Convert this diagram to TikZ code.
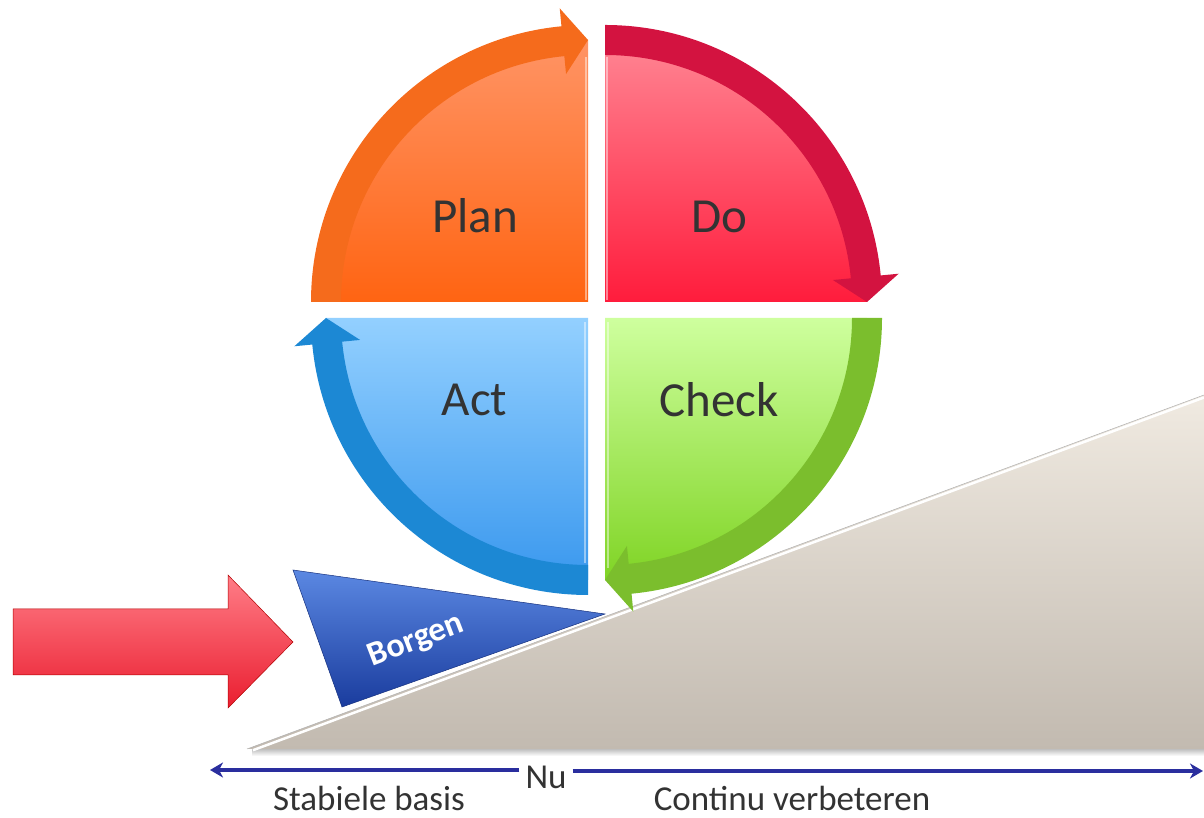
\documentclass[tikz,border=0pt]{standalone}
\usepackage{fontspec}
\setmainfont{Carlito}
\usetikzlibrary{arrows.meta,calc}
\definecolor{planT}{HTML}{FF9465}
\definecolor{planB}{HTML}{FF6412}
\definecolor{planA}{HTML}{F56B1C}
\definecolor{doT}{HTML}{FF8593}
\definecolor{doB}{HTML}{FF1C3C}
\definecolor{doA}{HTML}{D31340}
\definecolor{actT}{HTML}{93D0FF}
\definecolor{actB}{HTML}{3A98EE}
\definecolor{actA}{HTML}{1C88D4}
\definecolor{chkT}{HTML}{CEFF9E}
\definecolor{chkB}{HTML}{80D425}
\definecolor{chkA}{HTML}{7BBE2D}
\definecolor{redT}{HTML}{FF7D87}
\definecolor{redB}{HTML}{EA1E30}
\definecolor{borT}{HTML}{5B88E2}
\definecolor{borB}{HTML}{1A3C9E}
\definecolor{wedT}{HTML}{F0EAE1}
\definecolor{wedB}{HTML}{C2BAB0}
\definecolor{lineblue}{HTML}{2A2E9E}
\definecolor{txt}{HTML}{333333}
\begin{document}
\begin{tikzpicture}[x=1pt,y=1pt,
  lbl/.style={text=txt, font=\fontsize{49}{50}\selectfont, inner sep=0pt, anchor=base},
  small/.style={text=txt, font=\fontsize{35}{36}\selectfont, inner sep=0pt, anchor=base},
  borgenlbl/.style={text=white, font=\bfseries\fontsize{34}{35}\selectfont, inner sep=0pt, anchor=base, rotate=21},
  ringarrow/.style={line width=0.6pt},
  blueline/.style={draw=lineblue, line width=3.8pt, -{Stealth[length=13pt,width=15pt,inset=4pt]}},
  bevel/.style={white, opacity=0.45, line width=2pt}]
\useasboundingbox (0,0) rectangle (1204,818);

% ---------- gray wedge ----------
\coordinate (W1) at (247,69);
\coordinate (W2) at (1204,423);
\coordinate (W3) at (1204,69);
\shade[top color=black!25, bottom color=white] (252,62) rectangle (1204,69);
\shade[top color=wedT, bottom color=wedB] (W1) -- (W2) -- (W3) -- cycle;
\draw[black!30, line width=0.5pt] (W1) -- (W2);
\draw[white, line width=2.5pt] ($(W1)+(6,-1.2)$) -- ($(W2)+(0,-2.5)$);

% ---------- Plan ----------
\begin{scope}[shift={(588,516)}]
  \shade[top color=planT, bottom color=planB] (0,0) -- (180:262pt) arc[start angle=180,end angle=90,radius=262pt] -- cycle;
  \draw[bevel] (-2,2) -- (-2,245);
  \fill[planA, ringarrow] (180:277pt) arc[start angle=180,end angle=95.5,radius=277pt]
    -- (95.5:295pt) -- (90:262pt) -- (95.5:229pt) -- (95.5:247pt)
    arc[start angle=95.5,end angle=180,radius=247pt] -- cycle;
\end{scope}

% ---------- Do ----------
\begin{scope}[shift={(605,516)}]
  \shade[top color=doT, bottom color=doB] (0,0) -- (90:262pt) arc[start angle=90,end angle=0,radius=262pt] -- cycle;
  \draw[bevel] (2,2) -- (2,245);
  \fill[doA, ringarrow] (90:277pt) arc[start angle=90,end angle=5.5,radius=277pt]
    -- (5.5:295pt) -- (0:262pt) -- (5.5:229pt) -- (5.5:247pt)
    arc[start angle=5.5,end angle=90,radius=247pt] -- cycle;
\end{scope}

% ---------- Check ----------
\begin{scope}[shift={(605,500)}]
  \shade[top color=chkT, bottom color=chkB] (0,0) -- (0:262pt) arc[start angle=0,end angle=-90,radius=262pt] -- cycle;
  \draw[bevel] (3,-4) -- (3,-250);
  \fill[chkA, ringarrow] (0:277pt) arc[start angle=0,end angle=-84.5,radius=277pt]
    -- (-84.5:295pt) -- (-90:262pt) -- (-84.5:229pt) -- (-84.5:247pt)
    arc[start angle=-84.5,end angle=0,radius=247pt] -- cycle;
\end{scope}

% ---------- Act ----------
\begin{scope}[shift={(588,500)}]
  \shade[top color=actT, bottom color=actB] (0,0) -- (-90:262pt) arc[start angle=-90,end angle=-180,radius=262pt] -- cycle;
  \draw[bevel] (-3,-4) -- (-3,-245);
  \fill[actA, ringarrow] (-90:277pt) arc[start angle=-90,end angle=-174.5,radius=277pt]
    -- (-174.5:295pt) -- (-180:262pt) -- (-174.5:229pt) -- (-174.5:247pt)
    arc[start angle=-174.5,end angle=-90,radius=247pt] -- cycle;
\end{scope}

% ---------- labels ----------
\node[lbl] (plan) at (475,585) {Plan};
\node[lbl] (do) at (719.5,585) {Do};
\node[lbl] (act) at (474.5,402) {Act};
\node[lbl] (check) at (719,401) {Check};

% ---------- red arrow ----------
\shade[top color=redT, bottom color=redB, draw=red!70!black, line width=0.5pt]
  (13,209) -- (228,209) -- (228,243) -- (293,176) -- (228,110) -- (228,143) -- (13,143) -- cycle;

% ---------- Borgen ----------
\shade[top color=borT, bottom color=borB, draw=borB!80!black, line width=0.5pt]
  (293,248) -- (605,204) -- (342,111) -- cycle;
\node[borgenlbl] (borgen) at (419,169.5) {Borgen};

% ---------- time line ----------
\coordinate (L) at (210,48);
\coordinate (R) at (1203,47);
\node[small, inner xsep=6pt] (nu) at (546,29) {Nu};
\draw[blueline] (nu.west |- L) -- (L);
\draw[blueline] (nu.east |- R) -- (R);
\node[small] (stab) at (369,7) {Stabiele basis};
\node[small] (cont) at (792,7) {Continu verbeteren};
\end{tikzpicture}
\end{document}
